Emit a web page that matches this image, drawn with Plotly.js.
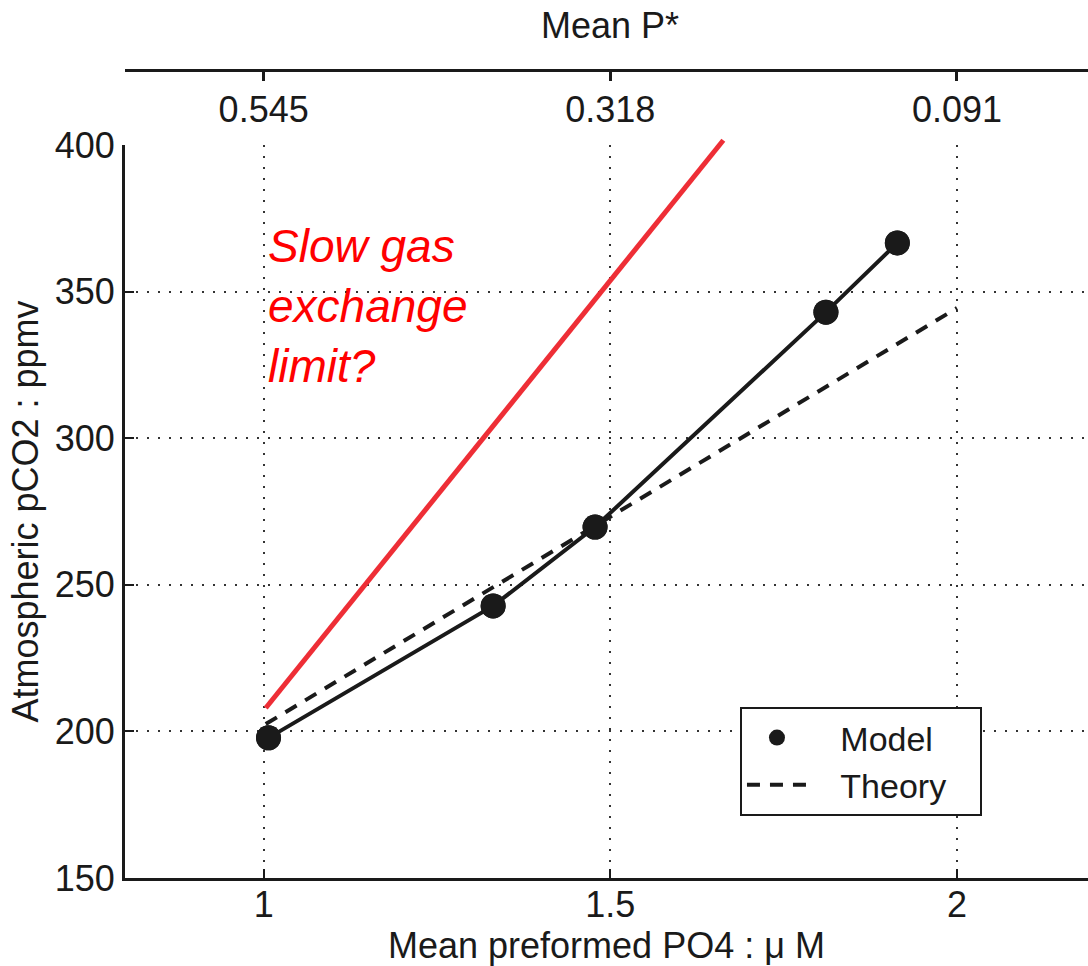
<!DOCTYPE html>
<html>
<head>
<meta charset="utf-8">
<script src="https://cdn.plot.ly/plotly-3.0.1.min.js"></script>
<style>html,body{margin:0;padding:0;background:#fff;overflow:hidden}</style>
</head>
<body>
<div id="chart" style="width:1088px;height:966px"></div>
<script>
// Data
const modelX = [1.007, 1.331, 1.478, 1.811, 1.914];
const modelY = [197.8, 242.8, 269.7, 343.0, 366.6];
const theoryX = [1.003, 2.0];
const theoryY = [202.5, 344.4];
const limitX = [1.003, 1.663];
const limitY = [208.0, 401.7];
const bottomTickVals = [1, 1.5, 2];
const bottomTickText = ['1', '1.5', '2'];
const topTickText = ['0.545', '0.318', '0.091'];
const yTickVals = [150, 200, 250, 300, 350, 400];

const FONT = '"Liberation Sans", Arial, Helvetica, sans-serif';
const INK = '#1a1a1a';
const xRange = [0.8, 2.189];
const NB = '\u00a0';

const traces = [
  {x: limitX, y: limitY, mode: 'lines', name: 'Slow gas exchange limit', xaxis: 'x2', yaxis: 'y2',
   line: {color: '#ee2e36', width: 5}, showlegend: false},
  {x: modelX, y: modelY, mode: 'lines+markers', name: 'Model line', xaxis: 'x', yaxis: 'y',
   line: {color: INK, width: 4}, marker: {size: 25, color: INK}, showlegend: false},
  {x: theoryX, y: theoryY, mode: 'lines', name: NB + NB + NB + 'Theory' + NB + NB + NB, xaxis: 'x', yaxis: 'y',
   line: {color: INK, width: 4, dash: '13px,10px'}, showlegend: true, legendrank: 2},
  {x: modelX, y: modelY, mode: 'markers', name: NB + NB + NB + 'Model', xaxis: 'x', yaxis: 'y',
   marker: {size: 25, color: INK}, showlegend: true, legendrank: 1}
];

const layout = {
  width: 1088, height: 966,
  margin: {l: 125, r: 0, t: 72, b: 88},
  paper_bgcolor: '#fff', plot_bgcolor: 'rgba(0,0,0,0)',
  font: {family: FONT, color: INK, size: 36},
  showlegend: true,
  xaxis: {
    range: xRange, domain: [0, 1], anchor: 'y',
    tickmode: 'array', tickvals: bottomTickVals, ticktext: bottomTickText,
    ticks: 'inside', ticklen: 9, tickwidth: 2, tickcolor: INK, ticklabelstandoff: -7,
    showline: true, linewidth: 3, linecolor: INK, mirror: false,
    showgrid: true, gridcolor: '#333', gridwidth: 2, griddash: '2px,9px',
    zeroline: false, tickfont: {size: 36, family: FONT, color: INK}
  },
  xaxis2: {
    range: xRange, domain: [0, 1], anchor: 'y2', side: 'top',
    tickmode: 'array', tickvals: bottomTickVals, ticktext: topTickText,
    ticks: 'inside', ticklen: 9, tickwidth: 3, tickcolor: INK,
    ticklabelposition: 'inside', ticklabelstandoff: 20,
    showline: true, linewidth: 3, linecolor: INK,
    showgrid: false, zeroline: false, tickfont: {size: 36, family: FONT, color: INK}
  },
  yaxis: {
    range: [150, 400], domain: [0, 0.9094], anchor: 'x',
    tickmode: 'array', tickvals: yTickVals,
    ticks: 'inside', ticklen: 9, tickwidth: 2, tickcolor: INK,
    showline: true, linewidth: 3, linecolor: INK,
    showgrid: true, gridcolor: '#333', gridwidth: 2, griddash: '2px,9px',
    zeroline: false, tickfont: {size: 36, family: FONT, color: INK},
    title: {text: 'Atmospheric pCO2 : ppmv', font: {size: 36, family: FONT, color: INK}, standoff: 6}
  },
  yaxis2: {range: [150, 425], domain: [0, 1], anchor: 'x2', showgrid: false, zeroline: false,
           showline: false, showticklabels: false, ticks: ''},
  legend: {
    x: 0.6386, y: 0.2122, xanchor: 'left', yanchor: 'top',
    bgcolor: '#fff', bordercolor: INK, borderwidth: 2,
    font: {size: 34, family: FONT, color: INK},
    traceorder: 'normal', itemwidth: 60
  },
  annotations: [
    {
      xref: 'x', yref: 'y', x: 1.004, y: 375, xanchor: 'left', yanchor: 'top',
      text: '<i>Slow gas<br>exchange<br>limit?</i>', showarrow: false, align: 'left',
      font: {size: 46, color: '#ff0000', family: FONT}
    },
    {
      xref: 'paper', yref: 'paper', x: 0.504, y: 1, xanchor: 'center', yanchor: 'bottom', yshift: 24,
      text: 'Mean P*', showarrow: false, font: {size: 36, color: INK, family: FONT}
    },
    {
      xref: 'paper', yref: 'paper', x: 0.5, y: 0, xanchor: 'center', yanchor: 'top', yshift: -45,
      text: 'Mean preformed PO4 : \u03bc M', showarrow: false, font: {size: 36, color: INK, family: FONT}
    }
  ]
};

Plotly.newPlot('chart', traces, layout, {displayModeBar: false, staticPlot: true});
</script>
</body>
</html>
